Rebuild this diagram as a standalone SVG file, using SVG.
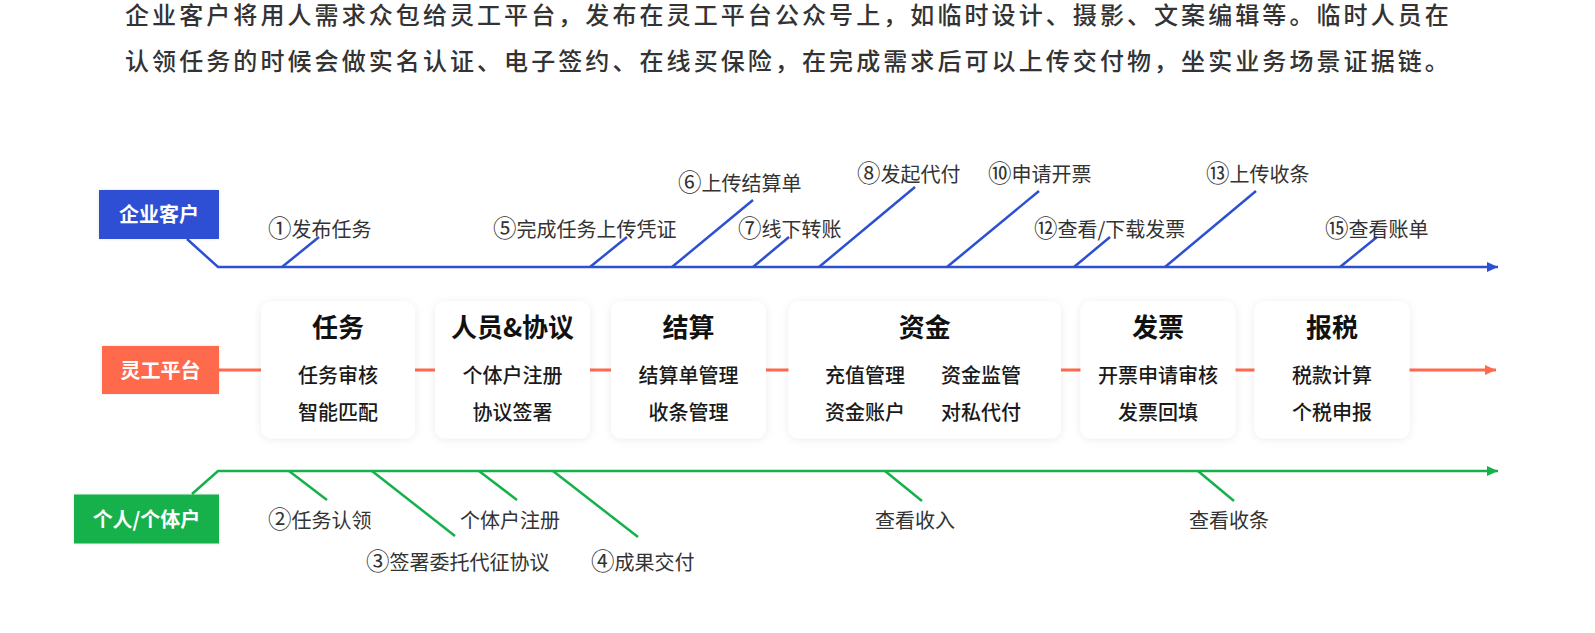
<svg xmlns="http://www.w3.org/2000/svg" width="1595" height="633" viewBox="0 0 1595 633">
  <defs>
    <style>
      .cjk { font-family: "Noto Sans CJK SC", "Noto Sans", "Liberation Sans", sans-serif; }
      .intro { font-size: 24px; fill: #333333; letter-spacing: 3.08px; font-weight: 500; }
      .lbl { font-size: 20px; fill: #333333; }
      .num { font-size: 23.5px; }
      .boxtxt { font-size: 20px; fill: #ffffff; font-weight: 700; text-anchor: middle; }
      .title { font-size: 26px; fill: #111111; font-weight: 700; text-anchor: middle; }
      .item { font-size: 20px; fill: #1a1a1a; font-weight: 500; text-anchor: middle; }
      .card { fill: #ffffff; filter: url(#shadow); }
      .blue { stroke: #2d50d3; stroke-width: 2.5; fill: none; }
      .orange { stroke: #ff6a4d; stroke-width: 3; fill: none; }
      .green { stroke: #15b14b; stroke-width: 2.5; fill: none; }
    </style>
    <filter id="shadow" x="-20%" y="-20%" width="140%" height="140%">
      <feDropShadow dx="0" dy="1" stdDeviation="4" flood-color="#000000" flood-opacity="0.08"/>
    </filter>
    <filter id="glow" x="-20%" y="-20%" width="140%" height="140%">
      <feDropShadow dx="0" dy="0" stdDeviation="1.5" flood-color="#000000" flood-opacity="0.12"/>
    </filter>
    <marker id="arrBlue" markerUnits="userSpaceOnUse" markerWidth="12" markerHeight="12" viewBox="0 0 12 12" refX="11" refY="6" orient="auto">
      <path d="M0,1 L11,6 L0,11 Z" fill="#2d50d3"/>
    </marker>
    <marker id="arrOrange" markerUnits="userSpaceOnUse" markerWidth="12" markerHeight="12" viewBox="0 0 12 12" refX="11" refY="6" orient="auto">
      <path d="M0,1 L11,6 L0,11 Z" fill="#ff6a4d"/>
    </marker>
    <marker id="arrGreen" markerUnits="userSpaceOnUse" markerWidth="12" markerHeight="12" viewBox="0 0 12 12" refX="11" refY="6" orient="auto">
      <path d="M0,1 L11,6 L0,11 Z" fill="#15b14b"/>
    </marker>
  </defs>

  <rect x="0" y="0" width="1595" height="633" fill="#ffffff"/>

  <g id="intro" class="cjk intro">
    <text x="125" y="24">企业客户将用人需求众包给灵工平台，发布在灵工平台公众号上，如临时设计、摄影、文案编辑等。临时人员在</text>
    <text x="125" y="70">认领任务的时候会做实名认证、电子签约、在线买保险，在完成需求后可以上传交付物，坐实业务场景证据链。</text>
  </g>

  <g id="connectors">
    <polyline class="blue" points="187,239 218,267 1498,267" marker-end="url(#arrBlue)"/>
    <line class="blue" x1="282" y1="267" x2="319" y2="237"/>
    <line class="blue" x1="590" y1="267" x2="627" y2="237"/>
    <line class="blue" x1="672" y1="267" x2="753" y2="200"/>
    <line class="blue" x1="753" y1="267" x2="789" y2="237"/>
    <line class="blue" x1="819" y1="267" x2="915" y2="187"/>
    <line class="blue" x1="947" y1="267" x2="1039" y2="191"/>
    <line class="blue" x1="1074" y1="267" x2="1110" y2="237"/>
    <line class="blue" x1="1165" y1="267" x2="1256" y2="191"/>
    <line class="blue" x1="1340" y1="267" x2="1377" y2="237"/>
    <line class="orange" x1="219" y1="370" x2="1496" y2="370" marker-end="url(#arrOrange)"/>
    <polyline class="green" points="192,494 218,471 1498,471" marker-end="url(#arrGreen)"/>
    <line class="green" x1="289" y1="471" x2="327" y2="500"/>
    <line class="green" x1="372" y1="471" x2="455" y2="536"/>
    <line class="green" x1="479" y1="471" x2="517" y2="500"/>
    <line class="green" x1="553" y1="471" x2="638" y2="537"/>
    <line class="green" x1="885" y1="471" x2="922" y2="501"/>
    <line class="green" x1="1198" y1="471" x2="1234" y2="501"/>
  </g>

  <g id="labels-enterprise" class="cjk lbl">
    <text x="268" y="236.5"><tspan class="num">①</tspan>发布任务</text>
    <text x="493" y="236.5"><tspan class="num">⑤</tspan>完成任务上传凭证</text>
    <text x="678" y="190.5"><tspan class="num">⑥</tspan>上传结算单</text>
    <text x="738" y="236.5"><tspan class="num">⑦</tspan>线下转账</text>
    <text x="857" y="181.5"><tspan class="num">⑧</tspan>发起代付</text>
    <text x="988" y="181.5"><tspan class="num">⑩</tspan>申请开票</text>
    <text x="1034" y="236.5"><tspan class="num">⑫</tspan>查看/下载发票</text>
    <text x="1206" y="181.5"><tspan class="num">⑬</tspan>上传收条</text>
    <text x="1325" y="236.5"><tspan class="num">⑮</tspan>查看账单</text>
  </g>

  <g id="labels-individual" class="cjk lbl">
    <text x="268" y="527.5"><tspan class="num">②</tspan>任务认领</text>
    <text x="366" y="570"><tspan class="num">③</tspan>签署委托代征协议</text>
    <text x="460" y="527.5">个体户注册</text>
    <text x="591" y="570"><tspan class="num">④</tspan>成果交付</text>
    <text x="875" y="527.5">查看收入</text>
    <text x="1189" y="527.5">查看收条</text>
  </g>

  <g id="node-enterprise">
    <rect x="99" y="190" width="120" height="49" fill="#2d50d3" filter="url(#glow)"/>
    <text class="cjk boxtxt" x="159" y="222">企业客户</text>
  </g>

  <g id="node-platform">
    <rect x="102" y="346" width="117" height="48" fill="#ff6a4d" filter="url(#glow)"/>
    <text class="cjk boxtxt" x="160.5" y="377.5">灵工平台</text>
  </g>

  <g id="node-individual">
    <rect x="74" y="494.5" width="145" height="49" fill="#15b14b" filter="url(#glow)"/>
    <text class="cjk boxtxt" x="146.5" y="526.5">个人/个体户</text>
  </g>

  <g id="card-task">
    <rect class="card" x="261" y="301.5" width="154" height="137" rx="10"/>
    <text class="cjk title" x="338" y="337">任务</text>
    <text class="cjk item" x="338" y="382.5">任务审核</text>
    <text class="cjk item" x="338" y="419.5">智能匹配</text>
  </g>

  <g id="card-people">
    <rect class="card" x="435" y="301.5" width="155" height="137" rx="10"/>
    <text class="cjk title" x="512.5" y="337">人员&amp;协议</text>
    <text class="cjk item" x="512.5" y="382.5">个体户注册</text>
    <text class="cjk item" x="512.5" y="419.5">协议签署</text>
  </g>

  <g id="card-settle">
    <rect class="card" x="611" y="301.5" width="155" height="137" rx="10"/>
    <text class="cjk title" x="688.5" y="337">结算</text>
    <text class="cjk item" x="688.5" y="382.5">结算单管理</text>
    <text class="cjk item" x="688.5" y="419.5">收条管理</text>
  </g>

  <g id="card-fund">
    <rect class="card" x="788.5" y="301.5" width="272.5" height="137" rx="10"/>
    <text class="cjk title" x="924.7" y="337">资金</text>
    <text class="cjk item" x="865" y="382.5">充值管理</text>
    <text class="cjk item" x="981" y="382.5">资金监管</text>
    <text class="cjk item" x="865" y="419.5">资金账户</text>
    <text class="cjk item" x="981" y="419.5">对私代付</text>
  </g>

  <g id="card-invoice">
    <rect class="card" x="1080.5" y="301.5" width="155" height="137" rx="10"/>
    <text class="cjk title" x="1158" y="337">发票</text>
    <text class="cjk item" x="1158" y="382.5">开票申请审核</text>
    <text class="cjk item" x="1158" y="419.5">发票回填</text>
  </g>

  <g id="card-tax">
    <rect class="card" x="1254.5" y="301.5" width="155" height="137" rx="10"/>
    <text class="cjk title" x="1332" y="337">报税</text>
    <text class="cjk item" x="1332" y="382.5">税款计算</text>
    <text class="cjk item" x="1332" y="419.5">个税申报</text>
  </g>
</svg>
